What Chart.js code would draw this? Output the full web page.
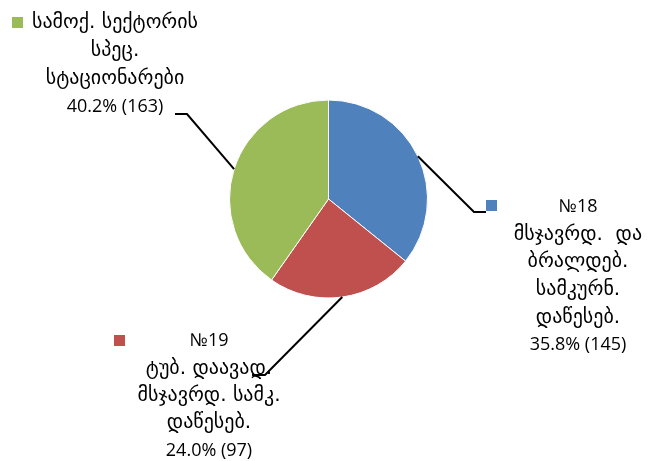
<!DOCTYPE html>
<html>
<head>
<meta charset="utf-8">
<script src="https://cdn.jsdelivr.net/npm/chart.js@4.4.1/dist/chart.umd.min.js"></script>
<style>
  html, body { margin: 0; padding: 0; background: #fff; }
  #wrap { width: 648px; height: 461px; }
</style>
</head>
<body>
<div id="wrap"><canvas id="pie" width="648" height="461"></canvas></div>
<script>
const categories = [
  ["№18", "მსჯავრდ.  და", "ბრალდებ.", "სამკურნ.", "დაწესებ."],
  ["№19", "ტუბ. დაავად.", "მსჯავრდ. სამკ.", "დაწესებ."],
  ["სამოქ. სექტორის", "სპეც.", "სტაციონარები"]
];
const values = [145, 97, 163];
const percents = ["35.8%", "24.0%", "40.2%"];
const colors = ['#4f81bd', '#c0504d', '#9bbb59'];

// where each label block sits and where its leader line bends
const labelLayout = [
  { cx: 578, y0: 207, step: 27.6, box: [486, 200], elbow: [474, 212], end: [486, 212] },
  { cx: 209, y0: 341, step: 27.4, box: [114, 335], elbow: [265, 375], end: [252, 375] },
  { cx: 115, y0: 23, step: 27.8, box: [12, 17], elbow: [187, 114], end: [175, 114] }
];

const FONT_LATIN = "18px 'Open Sans', 'DejaVu Sans', sans-serif";
const FONT_GEO = "20px 'DejaVu Sans', sans-serif";
const isGeorgian = t => /[\u10A0-\u10FF]/.test(t);

const pieLabels = {
  id: "pieLabels",
  afterDatasetsDraw(chart) {
    const ctx = chart.ctx;
    const arcs = chart.getDatasetMeta(0).data;
    ctx.save();
    arcs.forEach((arc, i) => {
      const lay = labelLayout[i];
      const mid = (arc.startAngle + arc.endAngle) / 2;
      const sx = arc.x + Math.cos(mid) * arc.outerRadius;
      const sy = arc.y + Math.sin(mid) * arc.outerRadius;
      ctx.strokeStyle = "#000";
      ctx.lineWidth = 2;
      ctx.beginPath();
      ctx.moveTo(sx, sy);
      ctx.lineTo(lay.elbow[0], lay.elbow[1]);
      ctx.lineTo(lay.end[0], lay.end[1]);
      ctx.stroke();

      ctx.fillStyle = colors[i];
      ctx.fillRect(lay.box[0], lay.box[1], 11, 11);

      ctx.fillStyle = "#000";
      ctx.textAlign = "center";
      ctx.textBaseline = "middle";
      const lines = categories[i].concat([percents[i] + " (" + values[i] + ")"]);
      lines.forEach((t, k) => {
        ctx.font = isGeorgian(t) ? FONT_GEO : FONT_LATIN;
        ctx.fillText(t, lay.cx, lay.y0 + k * lay.step);
      });
    });
    ctx.restore();
  }
};

new Chart(document.getElementById("pie"), {
  type: "pie",
  data: {
    labels: categories.map(c => c.join(" ")),
    datasets: [{
      data: values,
      backgroundColor: colors,
      borderColor: "#ffffff",
      borderWidth: 1,
      radius: 99
    }]
  },
  options: {
    responsive: false,
    animation: false,
    layout: { padding: { left: 109, right: 100, top: 80, bottom: 143 } },
    plugins: {
      legend: { display: false },
      tooltip: { enabled: false }
    }
  },
  plugins: [pieLabels]
});
</script>
</body>
</html>
